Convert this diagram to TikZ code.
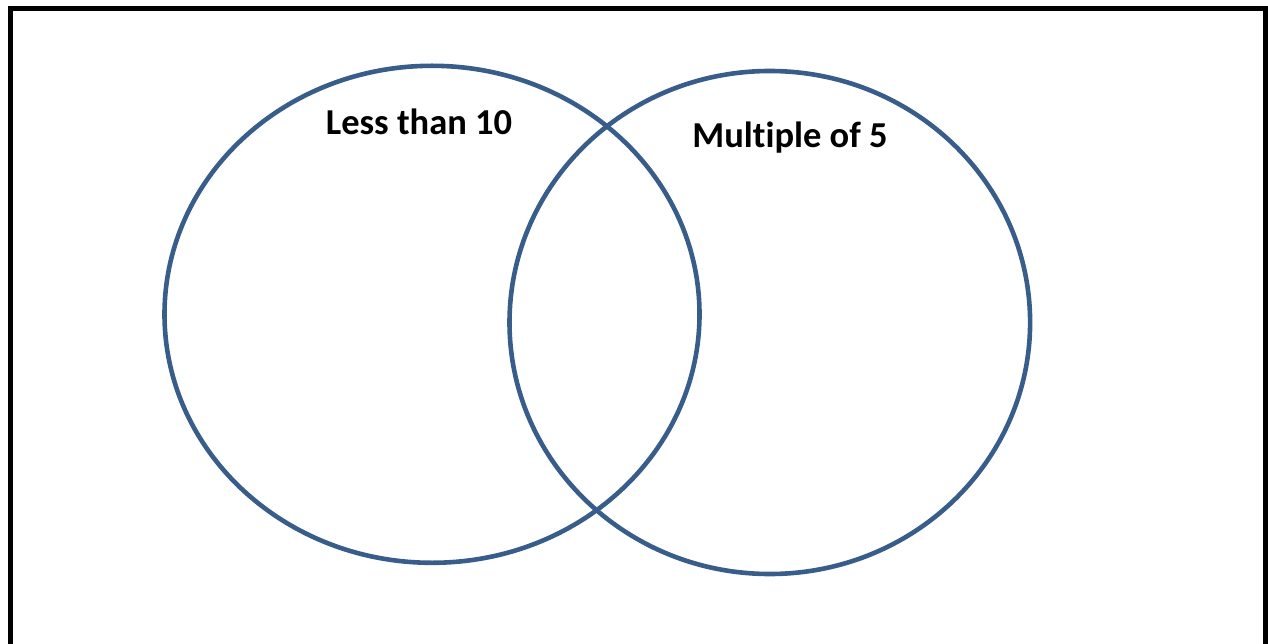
\documentclass[tikz,border=0pt]{standalone}
\usepackage{fontspec}
\setmainfont[Ligatures=NoCommon]{Carlito}
\definecolor{vennblue}{HTML}{385D8A}
\begin{document}
\begin{tikzpicture}[x=1pt,y=-1pt,
  setline/.style={draw=vennblue,line width=4.6pt},
  setlabel/.style={font=\bfseries\fontsize{36.5}{40}\selectfont,anchor=base,inner sep=0pt}]
\useasboundingbox (0,0) rectangle (1268,644);
\begin{scope}
\clip (0,0) rectangle (1268,644);
\draw[line width=5pt] (10.5,660) -- (10.5,8.5) -- (1265.5,8.5) -- (1265.5,660);
\end{scope}
\coordinate (A) at (432,314.3);
\coordinate (B) at (769.8,322.5);
\draw[setline] (A) ellipse [x radius=267.5, y radius=248.5];
\draw[setline] (B) ellipse [x radius=260.3, y radius=251.5];
\node[setlabel] (la) at (419,135) {Less than 10};
\node[setlabel] (lb) at (790,148) {Multiple of 5};
\end{tikzpicture}
\end{document}
